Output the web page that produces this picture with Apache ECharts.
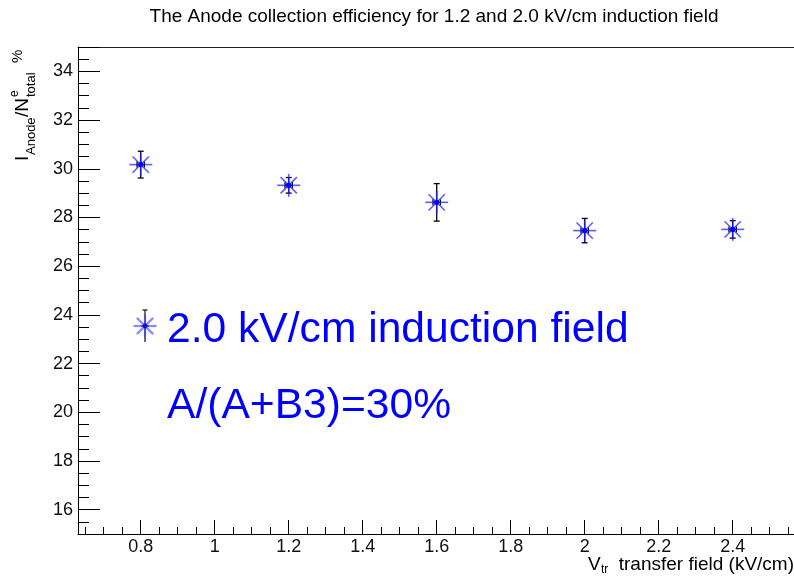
<!DOCTYPE html>
<html>
<head>
<meta charset="utf-8">
<title>Anode collection efficiency</title>
<script src="https://cdn.jsdelivr.net/npm/echarts@6/dist/echarts.min.js"></script>
<style>
  html, body { margin: 0; padding: 0; background: #fff; }
  #chart { width: 794px; height: 576px; }
</style>
</head>
<body>
<div id="chart"></div>
<script>
// Transfer field (kV/cm) and anode collection efficiency (%) with uncertainties
const transferField = [0.8, 1.2, 1.6, 2.0, 2.4];
const efficiency    = [30.17, 29.32, 28.62, 27.46, 27.51];
const efficiencyErr = [0.55, 0.32, 0.77, 0.50, 0.36];
const fieldErr      = [0.01, 0.01, 0.01, 0.01, 0.01];

// The visible part of the frame; its right edge lies at the canvas edge
const xRange = [0.6305, 2.5657];
const yRange = [15, 35];

const FONT = "'Liberation Sans', Arial, Helvetica, sans-serif";
const BLUE = '#0000ff';
const STAR = 'rgba(30, 30, 255, 0.72)';

const points = transferField.map((x, i) => [x, efficiency[i], efficiencyErr[i], fieldErr[i]]);

// Error bars with caps, then an eight-armed star with a dot at the centre
function drawPoint(params, api) {
  const x = api.value(0), y = api.value(1), ey = api.value(2), ex = api.value(3);
  const c = api.coord([x, y]);
  const top = api.coord([x, y + ey]);
  const bot = api.coord([x, y - ey]);
  const lft = api.coord([x - ex, y]);
  const rgt = api.coord([x + ex, y]);
  const cap = 3;
  const s = 11.5;
  const d = s * Math.SQRT1_2;
  const black = { stroke: '#000', lineWidth: 1.3 };
  const star = { stroke: STAR, lineWidth: 1.6 };
  const line = (x1, y1, x2, y2, style) => ({ type: 'line', shape: { x1, y1, x2, y2 }, style });
  return {
    type: 'group',
    children: [
      line(top[0], top[1], bot[0], bot[1], black),
      line(top[0] - cap, top[1], top[0] + cap, top[1], black),
      line(bot[0] - cap, bot[1], bot[0] + cap, bot[1], black),
      line(lft[0], lft[1], rgt[0], rgt[1], black),
      line(lft[0], lft[1] - cap, lft[0], lft[1] + cap, black),
      line(rgt[0], rgt[1] - cap, rgt[0], rgt[1] + cap, black),
      line(c[0] - s, c[1], c[0] + s, c[1], star),
      line(c[0], c[1] - s, c[0], c[1] + s, star),
      line(c[0] - d, c[1] - d, c[0] + d, c[1] + d, star),
      line(c[0] - d, c[1] + d, c[0] + d, c[1] - d, star),
      { type: 'circle', shape: { cx: c[0], cy: c[1], r: 2.6 }, style: { fill: BLUE } }
    ]
  };
}

// Legend symbol: star with its error bar
function legendSymbol(cx, cy) {
  const s = 11.5, d = s * Math.SQRT1_2;
  const star = { stroke: 'rgba(60, 60, 255, 0.6)', lineWidth: 2.2 };
  const black = { stroke: '#222', lineWidth: 1.3 };
  const ln = (x1, y1, x2, y2, style) => ({ type: 'line', shape: { x1, y1, x2, y2 }, style });
  return {
    type: 'group',
    children: [
      ln(cx, cy - 16, cx, cy + 16, black),
      ln(cx - 2.5, cy - 16, cx + 2.5, cy - 16, black),
      ln(cx - 4, cy, cx + 4, cy, black),
      ln(cx - s, cy, cx + s, cy, star),
      ln(cx, cy - s, cx, cy + s, star),
      ln(cx - d, cy - d, cx + d, cy + d, star),
      ln(cx - d, cy + d, cx + d, cy - d, star),
      { type: 'circle', shape: { cx, cy, r: 2.4 }, style: { fill: 'rgba(0,0,200,0.8)' } }
    ]
  };
}

const txt = (text, x, y, size, extra) => ({
  type: 'text', x, y,
  style: Object.assign({ text, fontSize: size, fontFamily: FONT, fill: '#000', verticalAlign: 'middle' }, extra || {})
});

const tickAxis = {
  axisLine: { lineStyle: { color: '#000', width: 1 } },
  splitLine: { show: false }
};

const chart = echarts.init(document.getElementById('chart'), null, { renderer: 'canvas' });

chart.setOption({
  animation: false,
  backgroundColor: '#fff',
  grid: { left: 78, top: 47, right: 0, bottom: 42 },
  xAxis: [
    Object.assign({
      type: 'value', position: 'bottom',
      min: xRange[0], max: xRange[1],
      splitNumber: 10, minInterval: 0.2, maxInterval: 0.2,
      axisTick: { inside: true, length: 14, lineStyle: { color: '#000', width: 1 } },
      minorTick: { show: true, splitNumber: 4, length: 7, lineStyle: { color: '#000', width: 1 } },
      axisLabel: {
        showMinLabel: false, showMaxLabel: false, margin: 4,
        fontSize: 18, fontFamily: FONT, color: '#111'
      }
    }, tickAxis),
    // Top edge of the frame: a bare line
    {
      type: 'value', position: 'top',
      min: xRange[0], max: xRange[1],
      axisLine: { show: true, onZero: false, lineStyle: { color: '#222', width: 1 } },
      axisTick: { show: false }, axisLabel: { show: false }, splitLine: { show: false }
    }
  ],
  yAxis: Object.assign({
    type: 'value',
    min: yRange[0], max: yRange[1],
    splitNumber: 10, minInterval: 2, maxInterval: 2,
    axisTick: { inside: true, length: 22, lineStyle: { color: '#000', width: 1 } },
    minorTick: { show: true, splitNumber: 4, length: 11, lineStyle: { color: '#000', width: 1 } },
    axisLabel: {
      showMinLabel: false, showMaxLabel: false, margin: 5,
      fontSize: 18, fontFamily: FONT, color: '#111'
    }
  }, tickAxis),
  series: [{
    type: 'custom',
    data: points,
    renderItem: drawPoint,
    encode: { x: 0, y: 1 },
    xAxisIndex: 0, yAxisIndex: 0,
    clip: false
  }],
  graphic: [
    // Title
    txt('The Anode collection efficiency for 1.2 and 2.0 kV/cm induction field', 434, 17, 19, { align: 'center' }),
    // x-axis title: V_tr transfer field (kV/cm)
    txt('V', 588, 565, 19),
    txt('tr', 601, 570, 12),
    txt('transfer field (kV/cm)', 794, 565, 19, { align: 'right' }),
    // y-axis title: I_Anode / N^e_total %, reading bottom to top
    {
      type: 'group', x: 29, y: 161, rotation: Math.PI / 2,
      children: [
        txt('I', 0, -6.5, 19),
        txt('Anode', 6, 2, 13),
        txt('/N', 44, -6.5, 19),
        txt('e', 64, -14, 12),
        txt('total', 64, 2, 13),
        txt('%', 98, -11, 15)
      ]
    },
    // Legend
    legendSymbol(145, 326),
    txt('2.0 kV/cm induction field', 167, 330, 42.6, { fill: BLUE }),
    txt('A/(A+B3)=30%', 167, 406, 42.6, { fill: BLUE })
  ]
});
</script>
</body>
</html>
